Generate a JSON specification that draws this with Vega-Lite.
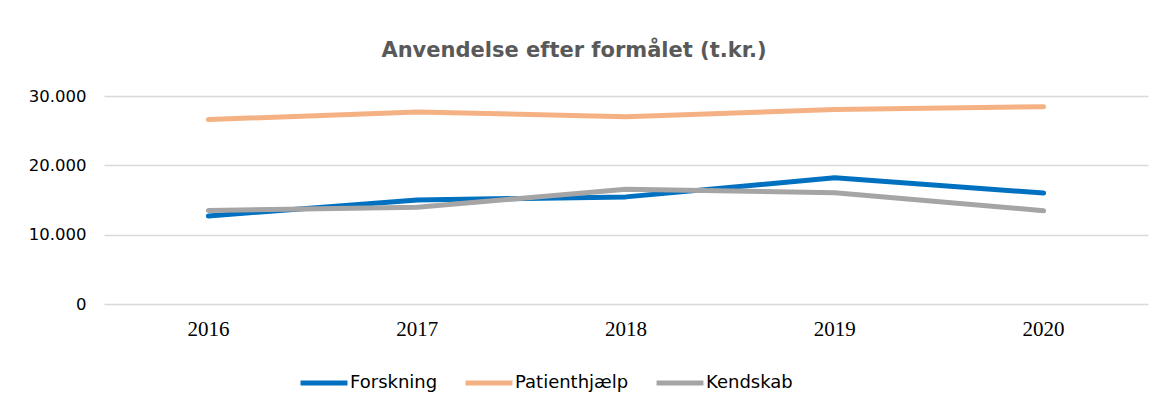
{
  "$schema": "https://vega.github.io/schema/vega-lite/v6.json",
  "autosize": {"type": "none"},
  "width": 1044,
  "height": 208,
  "padding": {"left": 104, "top": 96, "right": 17, "bottom": 106},
  "background": "white",
  "config": {
    "view": {"stroke": null},
    "locale": {"number": {"decimal": ",", "thousands": ".", "grouping": [3], "currency": ["", " kr."]}}
  },
  "title": {
    "text": "Anvendelse efter formålet (t.kr.)",
    "font": "DejaVu Sans",
    "fontSize": 21,
    "fontWeight": "bold",
    "color": "#595959",
    "anchor": "middle",
    "dx": -52,
    "offset": 27
  },
  "data": {
    "values": [
      {"year": "2016", "series": "Forskning", "value": 12700},
      {"year": "2017", "series": "Forskning", "value": 15000},
      {"year": "2018", "series": "Forskning", "value": 15450},
      {"year": "2019", "series": "Forskning", "value": 18200},
      {"year": "2020", "series": "Forskning", "value": 16000},
      {"year": "2016", "series": "Patienthjælp", "value": 26600},
      {"year": "2017", "series": "Patienthjælp", "value": 27700},
      {"year": "2018", "series": "Patienthjælp", "value": 27000},
      {"year": "2019", "series": "Patienthjælp", "value": 28050},
      {"year": "2020", "series": "Patienthjælp", "value": 28450},
      {"year": "2016", "series": "Kendskab", "value": 13500},
      {"year": "2017", "series": "Kendskab", "value": 13950},
      {"year": "2018", "series": "Kendskab", "value": 16550},
      {"year": "2019", "series": "Kendskab", "value": 16050},
      {"year": "2020", "series": "Kendskab", "value": 13450}
    ]
  },
  "mark": {"type": "line", "strokeWidth": 5, "strokeCap": "round", "strokeJoin": "round"},
  "encoding": {
    "x": {
      "field": "year",
      "type": "ordinal",
      "scale": {"type": "band", "paddingInner": 0, "paddingOuter": 0},
      "axis": {
        "title": null,
        "labelAngle": 0,
        "labelFont": "Liberation Serif",
        "labelFontSize": 21,
        "labelColor": "#000000",
        "labelPadding": 14,
        "domain": false,
        "ticks": false,
        "grid": false
      }
    },
    "y": {
      "field": "value",
      "type": "quantitative",
      "scale": {"domain": [0, 30000], "nice": false},
      "axis": {
        "title": null,
        "values": [0, 10000, 20000, 30000],
        "format": ",d",
        "labelFont": "DejaVu Sans",
        "labelFontSize": 16.5,
        "labelColor": "#000000",
        "labelPadding": 18,
        "domain": false,
        "ticks": false,
        "grid": true,
        "gridColor": "#D9D9D9",
        "gridWidth": 1.5
      }
    },
    "color": {
      "field": "series",
      "type": "nominal",
      "scale": {
        "domain": ["Forskning", "Patienthjælp", "Kendskab"],
        "range": ["#0070C0", "#F4B183", "#A5A5A5"]
      },
      "legend": {
        "title": null,
        "orient": "none",
        "direction": "horizontal",
        "legendX": 194,
        "legendY": 261,
        "symbolType": "stroke",
        "symbolSize": 2200,
        "symbolStrokeWidth": 5,
        "labelFont": "DejaVu Sans",
        "labelFontSize": 18,
        "labelColor": "#000000",
        "labelOffset": 0,
        "columnPadding": 17
      }
    }
  }
}
